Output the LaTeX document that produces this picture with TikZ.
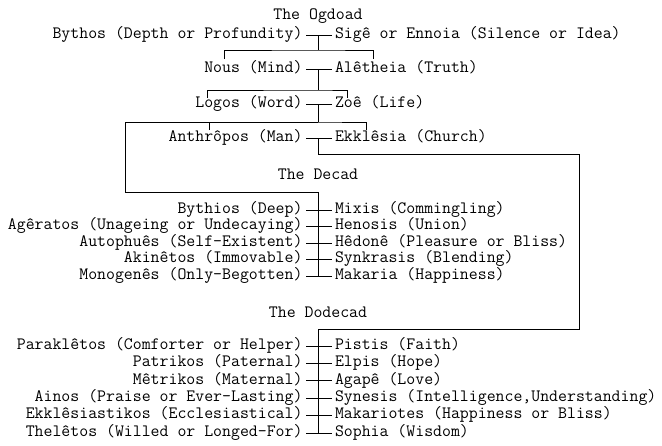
\documentclass[tikz,border=0pt]{standalone}
\usepackage{fontspec}
\usepackage{tikz}

\begin{document}
\begin{tikzpicture}[x=0.75pt,y=-0.75pt,line width=0.75pt,
  font=\ttfamily\fontsize{13pt}{15pt}\selectfont,
  lname/.style={anchor=east,inner xsep=2.25pt,inner ysep=0pt,text height=0.7em,text depth=0.2em},
  rname/.style={anchor=west,inner xsep=2.25pt,inner ysep=0pt,text height=0.7em,text depth=0.2em}]
\useasboundingbox (0,0) rectangle (662,446);
\coordinate (axis) at (318,0);

% the Ogdoad
\node (ogdoad) at (318,16) {The Ogdoad};
\node[lname] (bythos) at (306,35) {Bythos (Depth or Profundity)};
\node[rname] (sige) at (331.5,35) {Sigê or Ennoia (Silence or Idea)};
\node[lname] (nous) at (306,69.5) {Nous (Mind)};
\node[rname] (aletheia) at (331.5,69.5) {Alêtheia (Truth)};
\node[lname] (logos) at (306,104) {Logos (Word)};
\node[rname] (zoe) at (331.5,104) {Zoê (Life)};
\node[lname] (anthropos) at (306,138) {Anthrôpos (Man)};
\node[rname] (ekklesia) at (331.5,138) {Ekklêsia (Church)};

\coordinate (k1) at (318,50);
\coordinate (k2) at (318,90);
\coordinate (k3) at (318,122);
\draw (bythos.east -| axis) -- (k1);
\draw (224,59) |- (k1) -| (373,59);
\draw (nous.east -| axis) -- (k2);
\draw (207,98) |- (k2) -| (347.5,98);
\draw (logos.east -| axis) -- (k3);
\draw (209,130) |- (k3) -| (366,130);

% the Decad
\node (decad) at (318,174) {The Decad};
\node[lname] (bythios) at (306,210) {Bythios (Deep)};
\node[rname] (mixis) at (331.5,210) {Mixis (Commingling)};
\node[lname] (ageratos) at (306,226.5) {Agêratos (Unageing or Undecaying)};
\node[rname] (henosis) at (331.5,226.5) {Henosis (Union)};
\node[lname] (autophues) at (306,243) {Autophuês (Self-Existent)};
\node[rname] (hedone) at (331.5,243) {Hêdonê (Pleasure or Bliss)};
\node[lname] (akinetos) at (306,259.5) {Akinêtos (Immovable)};
\node[rname] (synkrasis) at (331.5,259.5) {Synkrasis (Blending)};
\node[lname] (monogenes) at (306,276) {Monogenês (Only-Begotten)};
\node[rname] (makaria) at (331.5,276) {Makaria (Happiness)};

\coordinate (d0) at (318,192);
\draw (k3) -| (125,192) -- (d0) -- (monogenes.east -| axis);

% the Dodecad
\node (dodecad) at (318,312) {The Dodecad};
\node[lname] (parakletos) at (306,346) {Paraklêtos (Comforter or Helper)};
\node[rname] (pistis) at (331.5,346) {Pistis (Faith)};
\node[lname] (patrikos) at (306,363.4) {Patrikos (Paternal)};
\node[rname] (elpis) at (331.5,363.4) {Elpis (Hope)};
\node[lname] (metrikos) at (306,380.8) {Mêtrikos (Maternal)};
\node[rname] (agape) at (331.5,380.8) {Agapê (Love)};
\node[lname] (ainos) at (306,398.2) {Ainos (Praise or Ever-Lasting)};
\node[rname] (synesis) at (331.5,398.2) {Synesis (Intelligence,Understanding)};
\node[lname] (ekklesiastikos) at (306,415.6) {Ekklêsiastikos (Ecclesiastical)};
\node[rname] (makariotes) at (331.5,415.6) {Makariotes (Happiness or Bliss)};
\node[lname] (theletos) at (306,433) {Thelêtos (Willed or Longed-For)};
\node[rname] (sophia) at (331.5,433) {Sophia (Wisdom)};

\coordinate (w0) at (318,329);
\draw (anthropos.east -| axis) -- (318,154) -| (579,329) -- (w0) -- (theletos.east -| axis);

% pairs
\foreach \l/\r in {bythos/sige,nous/aletheia,logos/zoe,anthropos/ekklesia,
  bythios/mixis,ageratos/henosis,autophues/hedone,akinetos/synkrasis,monogenes/makaria,
  parakletos/pistis,patrikos/elpis,metrikos/agape,ainos/synesis,
  ekklesiastikos/makariotes,theletos/sophia}
  \draw (\l.east) -- (\r.west);
\end{tikzpicture}
\end{document}
